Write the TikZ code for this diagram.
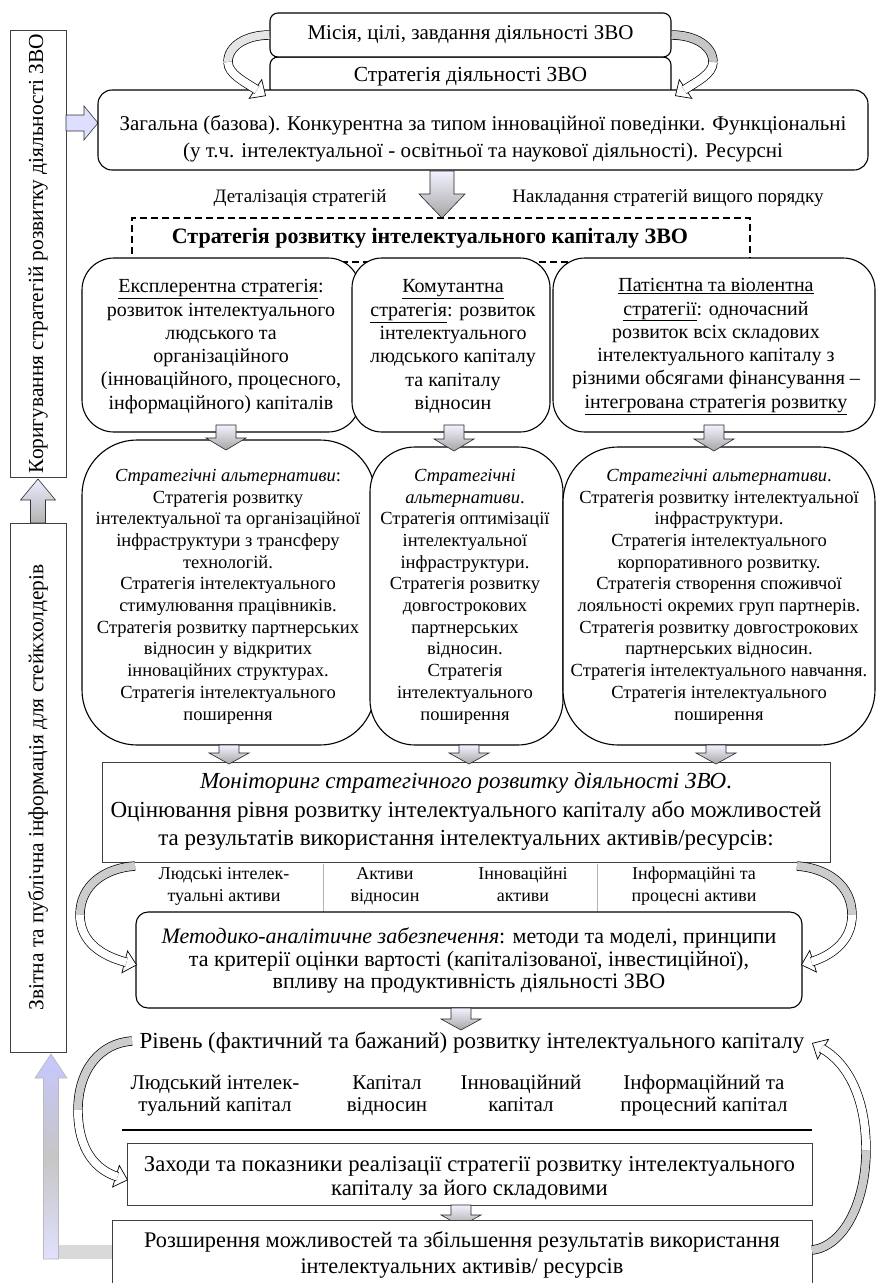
\documentclass[tikz,border=0pt]{standalone}
\usepackage{fontspec}
\setmainfont{Liberation Serif}
\usetikzlibrary{arrows.meta}
\newcommand\fsz[2]{\fontsize{#1}{#2}\selectfont}
\newcommand\bdarrow[6]{\path[draw=black!85,line width=0.6pt,top color=blue!5!white,bottom color=gray!70] ({#1-#4/2},#2) -- ({#1+#4/2},#2) -- ({#1+#4/2},{#3-#6}) -- ({#1+#5/2},{#3-#6}) -- (#1,#3) -- ({#1-#5/2},{#3-#6}) -- ({#1-#4/2},{#3-#6}) -- cycle;}
\tikzset{
 rbox/.style={draw=black, line width=1.1pt, fill=white, inner sep=0pt},
 pbox/.style={draw=black!75, line width=0.8pt, fill=white, inner sep=0pt},
 txt/.style={align=center, inner sep=0pt},
 cband/.style={line width=0.7pt, double distance=8pt},
 chead/.style={line width=0.7pt, -{Triangle[width=24pt,length=13pt,fill=white]}},
}
\begin{document}
\begin{tikzpicture}[x=1pt,y=-1pt]
\useasboundingbox (0,0) rectangle (877,1283);
\fill[white] (0,0) rectangle (877,1283);

% ---------- left column ----------
\node[pbox, rotate=90, minimum width=447pt, minimum height=56pt, font=\fsz{21.4}{25}] (korig) at (38,253.5) {Коригування стратегій розвитку діяльності ЗВО};
\node[pbox, rotate=90, minimum width=529pt, minimum height=56pt, font=\fsz{21.4}{25}] (zvit) at (38,787.5) {Звітна та публічна інформація для стейкхолдерів};
\path[draw=black!80, line width=0.6pt, top color=blue!8!white, bottom color=gray!60] (30.5,523) -- (30.5,500) -- (20.5,500) -- (38,479) -- (55.5,500) -- (45.5,500) -- (45.5,523) -- cycle;
\path[draw=black!80, line width=0.6pt, fill=blue!13!white] (66,115) -- (84,115) -- (84,106) -- (98,123) -- (84,140) -- (84,131) -- (66,131) -- cycle;

% ---------- top ----------
\node[rbox, rounded corners=8pt, minimum width=401pt, minimum height=40pt, font=\fsz{21.5}{25}] (strat) at (470.5,77) {Стратегія діяльності ЗВО};
\node[rbox, rounded corners=8pt, minimum width=401pt, minimum height=44pt, font=\fsz{21}{25}] (misia) at (470.5,35) {Місія, цілі, завдання діяльності ЗВО};
\node[rbox, rounded corners=14pt, minimum width=770pt, minimum height=80pt] (zag) at (483,130) {};
\node[txt, font=\fsz{21}{27}] (zagt) at (483,138.5) {Загальна (базова). Конкурентна за типом інноваційної поведінки. Функціональні\\(у т.ч. інтелектуальної - освітньої та наукової діяльності). Ресурсні};

\coordinate (c1t) at (266,96);
\coordinate (c2t) at (675,96);
\draw[chead] (misia.west) .. controls (246,35) and (228,46) .. (228,62) .. controls (228,74) and (245,82) .. (c1t);
\draw[cband, double=gray!20] (misia.west) .. controls (246,35) and (228,46) .. (228,62);
\draw[cband, double=white, shorten >=11pt] (228,62) .. controls (228,74) and (245,82) .. (c1t);
\draw[chead] (misia.east) .. controls (695,35) and (713,46) .. (713,62) .. controls (713,74) and (696,82) .. (c2t);
\draw[cband, double=gray!45] (misia.east) .. controls (695,35) and (713,46) .. (713,62);
\draw[cband, double=white, shorten >=11pt] (713,62) .. controls (713,74) and (696,82) .. (c2t);

\bdarrow{442}{171}{218}{24}{46}{24}
\node[txt, font=\fsz{19}{22}] (det) at (300,198) {Деталізація стратегій};
\node[txt, font=\fsz{19}{22}] (nakl) at (668,198) {Накладання стратегій вищого порядку};

\node[draw, line width=1.5pt, dash pattern=on 7pt off 4pt, minimum width=618pt, minimum height=44pt, inner sep=0pt] (dashb) at (441,240) {};
\node[txt, font=\fsz{22}{24}\bfseries] (title) at (430,238) {Стратегія розвитку інтелектуального капіталу ЗВО};

% ---------- row 1 ----------
\node[rbox, rounded corners=32pt, minimum width=278pt, minimum height=174pt] (sa) at (221,345) {};
\node[rbox, rounded corners=30pt, minimum width=198pt, minimum height=174pt] (sb) at (451,345) {};
\node[rbox, rounded corners=32pt, minimum width=322pt, minimum height=174pt] (sc) at (714,345) {};
\node[txt, font=\fsz{20}{23.3}] (sat) at (221,346.5) {\underline{Експлерентна стратегія}:\\розвиток інтелектуального\\людського та\\організаційного\\(інноваційного, процесного,\\інформаційного) капіталів};
\node[txt, font=\fsz{20}{23.3}] (sbt) at (453,346.5) {\underline{Комутантна}\\\underline{стратегія}: розвиток\\інтелектуального\\людського капіталу\\та капіталу\\відносин};
\node[txt, font=\fsz{20}{23.3}] (sct) at (716,346.5) {\underline{Патієнтна та віолентна}\\\underline{стратегії}: одночасний\\розвиток всіх складових\\інтелектуального капіталу з\\різними обсягами фінансування –\\\underline{інтегрована стратегія розвитку}};

% ---------- row 2 ----------
\node[rbox, rounded corners=55pt, minimum width=293pt, minimum height=305pt] (aa) at (228.5,592.5) {};
\node[rbox, rounded corners=45pt, minimum width=193pt, minimum height=298pt] (ab) at (466.5,596) {};
\node[rbox, rounded corners=55pt, minimum width=312pt, minimum height=298pt] (ac) at (719,596) {};
\node[txt, font=\fsz{18.5}{21.7}] (aat) at (228,596.5) {\textit{Стратегічні альтернативи}:\\Стратегія розвитку\\інтелектуальної та організаційної\\інфраструктури з трансферу\\технологій.\\Стратегія інтелектуального\\стимулювання працівників.\\Стратегія розвитку партнерських\\відносин у відкритих\\інноваційних структурах.\\Стратегія інтелектуального\\поширення};
\node[txt, font=\fsz{18.5}{21.7}] (abt) at (465,596.5) {\textit{Стратегічні}\\\textit{альтернативи}.\\Стратегія оптимізації\\інтелектуальної\\інфраструктури.\\Стратегія розвитку\\довгострокових\\партнерських\\відносин.\\Стратегія\\інтелектуального\\поширення};
\node[txt, font=\fsz{18.5}{21.7}] (act) at (719,596.5) {\textit{Стратегічні альтернативи}.\\Стратегія розвитку інтелектуальної\\інфраструктури.\\Стратегія інтелектуального\\корпоративного розвитку.\\Стратегія створення споживчої\\лояльності окремих груп партнерів.\\Стратегія розвитку довгострокових\\партнерських відносин.\\Стратегія інтелектуального навчання.\\Стратегія інтелектуального\\поширення};

\bdarrow{226}{425}{450}{20}{40}{12}
\bdarrow{454}{425}{451}{20}{40}{12}
\bdarrow{714}{425}{451}{20}{40}{12}

% ---------- monitoring ----------
\node[pbox, minimum width=728pt, minimum height=100pt] (mon) at (466,812) {};
\node[txt, font=\fsz{23}{28.5}] (mont) at (466,811.5) {\textit{Моніторинг стратегічного розвитку діяльності ЗВО}.\\Оцінювання рівня розвитку інтелектуального капіталу або можливостей\\та результатів використання інтелектуальних активів/ресурсів:};
\bdarrow{229}{745}{764}{20}{40}{11}
\bdarrow{469}{745}{764}{20}{40}{11}
\bdarrow{716}{745}{764}{20}{40}{11}

\node[txt, font=\fsz{18}{22}] (as1) at (224,886) {\strut Людські інтелек-\\туальні активи\strut};
\node[txt, font=\fsz{18}{22}] (as2) at (385,886) {\strut Активи\\відносин\strut};
\node[txt, font=\fsz{18}{22}] (as3) at (523,886) {\strut Інноваційні\\активи\strut};
\node[txt, font=\fsz{18}{22}] (as4) at (694,886) {\strut Інформаційні та\\процесні активи\strut};
\draw[gray!60, line width=0.4pt] (323,864) -- (323,912);
\draw[gray!60, line width=0.4pt] (597,864) -- (597,912);

% ---------- methodology ----------
\node[rbox, rounded corners=12pt, minimum width=666pt, minimum height=96pt] (met) at (469,960) {};
\node[txt, font=\fsz{22}{22.7}] (mett) at (469,960.5) {\textit{Методико-аналітичне забезпечення}: методи та моделі, принципи\\та критерії оцінки вартості (капіталізованої, інвестиційної),\\впливу на продуктивність діяльності ЗВО};

\coordinate (c3s) at (135,866);
\coordinate (c3t) at (137,965);
\draw[chead] (c3s) .. controls (105,868) and (80,885) .. (80,915) .. controls (80,942) and (102,956) .. (c3t);
\draw[cband, double=gray!40] (c3s) .. controls (105,868) and (80,885) .. (80,915);
\draw[cband, double=white, shorten >=11pt] (80,915) .. controls (80,942) and (102,956) .. (c3t);
\coordinate (c4s) at (797,866);
\coordinate (c4t) at (801,965);
\draw[chead] (c4s) .. controls (827,868) and (852,885) .. (852,915) .. controls (852,942) and (830,956) .. (c4t);
\draw[cband, double=gray!40] (c4s) .. controls (827,868) and (852,885) .. (852,915);
\draw[cband, double=white, shorten >=11pt] (852,915) .. controls (852,942) and (830,956) .. (c4t);

\bdarrow{461}{1008}{1030}{20}{40}{11}

% ---------- level ----------
\node[txt, font=\fsz{23}{25}] (riv) at (472,1043) {Рівень (фактичний та бажаний) розвитку інтелектуального капіталу};
\node[txt, font=\fsz{21}{22}] (k1) at (215,1096) {\strut Людський інтелек-\\туальний капітал\strut};
\node[txt, font=\fsz{21}{22}] (k2) at (387,1096) {\strut Капітал\\відносин\strut};
\node[txt, font=\fsz{21}{22}] (k3) at (521,1096) {\strut Інноваційний\\капітал\strut};
\node[txt, font=\fsz{21}{22}] (k4) at (704,1096) {\strut Інформаційний та\\процесний капітал\strut};
\draw[line width=1.6pt] (122,1130) -- (812,1130);

\node[pbox, minimum width=685pt, minimum height=62pt] (zah) at (469.5,1174) {};
\node[txt, font=\fsz{22.7}{23.5}] (zaht) at (469.5,1178.5) {Заходи та показники реалізації стратегії розвитку інтелектуального\\капіталу за його складовими};
\bdarrow{461}{1205}{1226}{20}{40}{11}
\node[pbox, minimum width=700pt, minimum height=70pt] (ras) at (462,1255) {};
\node[txt, font=\fsz{22.3}{26}] (rast) at (462,1255) {Розширення можливостей та збільшення результатів використання\\інтелектуальних активів/ ресурсів};

\coordinate (c5s) at (132,1041);
\coordinate (c5t) at (128,1180);
\draw[chead] (c5s) .. controls (100,1043) and (78,1070) .. (78,1110) .. controls (78,1150) and (96,1170) .. (c5t);
\draw[cband, double=gray!40] (c5s) .. controls (100,1043) and (78,1070) .. (78,1110);
\draw[cband, double=white, shorten >=11pt] (78,1110) .. controls (78,1150) and (96,1170) .. (c5t);
\coordinate (c6s) at (812,1250);
\coordinate (c6t) at (812,1043);
\draw[chead] (c6s) .. controls (845,1246) and (866,1200) .. (866,1150) .. controls (866,1095) and (846,1062) .. (c6t);
\draw[cband, double=gray!40] (c6s) .. controls (845,1246) and (866,1200) .. (866,1150);
\draw[cband, double=white, shorten >=11pt] (866,1150) .. controls (866,1095) and (846,1062) .. (c6t);

% ---------- feedback arrow ----------
\fill[gray!30] (43,1245) rectangle (112,1259);
\path[draw=gray!55, line width=0.6pt, top color=blue!22!white, bottom color=blue!12!white, middle color=gray!45] (43.5,1259) -- (43.5,1078) -- (35,1078) -- (51,1054) -- (67,1078) -- (58.5,1078) -- (58.5,1259) -- cycle;
\end{tikzpicture}
\end{document}
